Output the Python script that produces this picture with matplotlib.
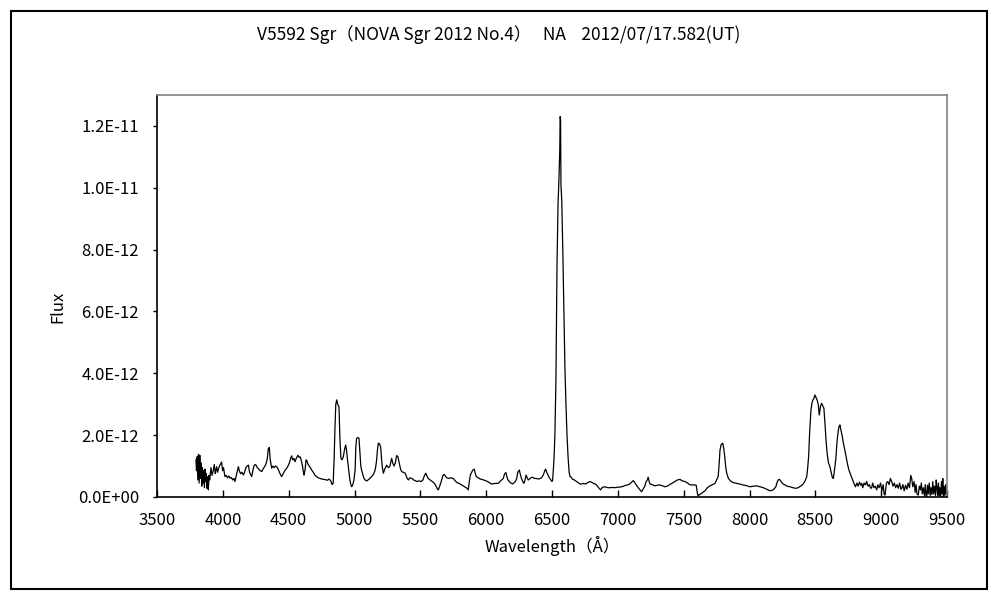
import matplotlib
matplotlib.use("Agg")
from matplotlib import pyplot as plt
from matplotlib.patches import Rectangle
from matplotlib.ticker import FuncFormatter

plt.rcParams['font.family'] = ['Noto Sans CJK JP', 'DejaVu Sans']

title = "V5592 Sgr\uff08NOVA Sgr 2012 No.4\uff09   NA    2012/07/17.582(UT)"

# wavelength in Angstrom, flux in units of 1E-12
wl = [
    3796, 3800, 3805, 3810, 3815, 3820, 3825, 3830, 3835, 3840,
    3845, 3850, 3855, 3860, 3865, 3870, 3875, 3880, 3885, 3890,
    3895, 3900, 3910, 3918, 3928, 3935, 3942, 3953, 3960, 3970,
    3980, 3991, 3998, 4005, 4016, 4025, 4035, 4045, 4054, 4065,
    4075, 4085, 4092, 4100, 4110, 4118, 4125, 4135, 4145, 4156,
    4165, 4175, 4185, 4194, 4203, 4212, 4219, 4228, 4236, 4245,
    4252, 4262, 4272, 4285, 4295, 4305, 4320, 4330, 4338, 4345,
    4353, 4360, 4371, 4380, 4390, 4400, 4409, 4420, 4430, 4440,
    4447, 4458, 4470, 4485, 4495, 4505, 4515, 4523, 4530, 4540,
    4548, 4558, 4570, 4580, 4586, 4595, 4605, 4612, 4617, 4625,
    4632, 4637, 4648, 4660, 4675, 4690, 4700, 4713, 4725, 4740,
    4750, 4763, 4780, 4795, 4805, 4814, 4822, 4830, 4838, 4845,
    4852, 4858, 4865, 4872, 4882, 4890, 4897, 4905, 4915, 4925,
    4933, 4940, 4947, 4955, 4965, 4972, 4979, 4987, 4996, 5005,
    5010, 5016, 5025, 5034, 5042, 5048, 5054, 5062, 5070, 5080,
    5095, 5110, 5120, 5130, 5142, 5155, 5162, 5168, 5175, 5181,
    5190, 5199, 5206, 5212, 5219, 5230, 5244, 5257, 5268, 5282,
    5290, 5300, 5310, 5320, 5330, 5340, 5350, 5358, 5370, 5385,
    5400, 5409, 5420, 5435, 5450, 5465, 5472, 5490, 5505, 5520,
    5530, 5541, 5550, 5560, 5575, 5590, 5605, 5620, 5630, 5637,
    5645, 5655, 5665, 5672, 5680, 5690, 5700, 5715, 5730, 5750,
    5765, 5780, 5795, 5810, 5826, 5840, 5855, 5864, 5872, 5880,
    5890, 5900, 5910, 5918, 5925, 5940, 5955, 5966, 5980, 5995,
    6010, 6025, 6042, 6060, 6075, 6092, 6105, 6118, 6130, 6140,
    6150, 6158, 6165, 6180, 6192, 6201, 6212, 6222, 6232, 6240,
    6252, 6260, 6268, 6278, 6287, 6295, 6303, 6312, 6320, 6330,
    6340, 6353, 6365, 6380, 6395, 6410, 6420, 6435, 6445, 6452,
    6460, 6470, 6480, 6492, 6500, 6505, 6515, 6522, 6530, 6538,
    6546, 6553, 6559, 6562, 6565, 6568, 6574, 6582, 6590, 6598,
    6606, 6614, 6622, 6630, 6637, 6642, 6655, 6670, 6687, 6700,
    6713, 6725, 6740, 6755, 6770, 6789, 6800, 6815, 6830, 6845,
    6858, 6869, 6880, 6895, 6910, 6925, 6941, 6960, 6975, 6990,
    7010, 7029, 7045, 7060, 7075, 7090, 7105, 7118, 7130, 7140,
    7155, 7170, 7181, 7192, 7205, 7215, 7224, 7230, 7238, 7245,
    7260, 7272, 7282, 7300, 7320, 7340, 7358, 7375, 7390, 7410,
    7434, 7452, 7472, 7490, 7510, 7530, 7545, 7561, 7580, 7595,
    7605, 7611, 7620, 7630, 7645, 7662, 7680, 7700, 7720, 7738,
    7750, 7762, 7770, 7776, 7785, 7797, 7805, 7812, 7820, 7827,
    7840, 7860, 7880, 7903, 7925, 7950, 7975, 8004, 8030, 8055,
    8080, 8105, 8130, 8156, 8181, 8200, 8210, 8218, 8228, 8240,
    8255, 8269, 8285, 8307, 8330, 8350, 8370, 8390, 8402, 8420,
    8435, 8442, 8449, 8458, 8467, 8475, 8482, 8490, 8497, 8505,
    8513, 8522, 8530, 8540, 8548, 8556, 8565, 8573, 8581, 8590,
    8600, 8611, 8620, 8630, 8637, 8645, 8655, 8665, 8675, 8682,
    8687, 8695, 8705, 8715, 8725, 8734, 8745, 8755, 8770, 8784,
    8795, 8805, 8815, 8825, 8835, 8845, 8852, 8860, 8870, 8880,
    8890, 8900, 8910, 8920, 8928, 8935, 8945, 8955, 8966, 8975,
    8985, 8995, 9005, 9015, 9022, 9029, 9040, 9050, 9060, 9070,
    9080, 9090, 9100, 9110, 9120, 9130, 9140, 9150, 9156, 9165,
    9175, 9185, 9195, 9205, 9215, 9225, 9232, 9240, 9250, 9258,
    9265, 9272, 9282, 9290, 9298, 9305, 9312, 9320, 9328, 9335,
    9341, 9346, 9352, 9358, 9365, 9372, 9378, 9385, 9392, 9398,
    9405, 9412, 9418, 9422, 9428, 9435, 9440, 9446, 9452, 9458,
    9463, 9468, 9473, 9478, 9484, 9490, 9495, 9498,
]
flux = [
    1.20, 0.85, 1.30, 0.55, 1.38, 0.45, 1.35, 0.60, 1.10, 0.35,
    0.95, 0.45, 0.85, 0.30, 0.90, 0.50, 0.75, 0.28, 0.65, 0.23,
    0.70, 0.55, 0.95, 0.70, 0.87, 1.05, 0.75, 0.98, 0.80, 0.95,
    1.05, 1.13, 0.85, 0.95, 0.66, 0.70, 0.62, 0.68, 0.61, 0.63,
    0.55, 0.60, 0.50, 0.65, 0.85, 0.98, 0.85, 0.75, 0.80, 0.71,
    0.80, 0.95, 1.00, 1.03, 0.80, 0.72, 0.66, 0.85, 1.00, 1.05,
    1.03, 0.95, 0.90, 0.85, 0.82, 0.90, 1.00, 1.10, 1.25, 1.55,
    1.60, 1.20, 0.93, 1.00, 0.95, 1.00, 0.98, 0.90, 0.80, 0.70,
    0.66, 0.75, 0.85, 0.93, 1.00, 1.10, 1.25, 1.33, 1.20, 1.25,
    1.14, 1.25, 1.35, 1.28, 1.30, 1.20, 1.00, 0.80, 0.71, 0.90,
    1.20, 1.18, 1.05, 0.98, 0.87, 0.78, 0.70, 0.66, 0.62, 0.60,
    0.58, 0.57, 0.56, 0.54, 0.58, 0.55, 0.50, 0.40, 0.45, 1.20,
    2.28, 3.00, 3.14, 3.00, 2.92, 1.80, 1.25, 1.20, 1.30, 1.55,
    1.68, 1.50, 1.20, 0.90, 0.55, 0.40, 0.33, 0.40, 0.55, 0.90,
    1.60, 1.90, 1.92, 1.90, 1.40, 1.00, 0.87, 0.75, 0.62, 0.55,
    0.52, 0.58, 0.62, 0.66, 0.72, 0.85, 1.00, 1.20, 1.55, 1.74,
    1.72, 1.60, 1.20, 0.95, 0.77, 0.90, 1.03, 0.95, 0.98, 1.25,
    1.10, 1.00, 1.10, 1.34, 1.30, 1.09, 0.90, 0.82, 0.80, 0.77,
    0.60, 0.55, 0.62, 0.60, 0.55, 0.52, 0.50, 0.52, 0.50, 0.55,
    0.68, 0.77, 0.68, 0.60, 0.55, 0.50, 0.45, 0.35, 0.25, 0.23,
    0.33, 0.45, 0.60, 0.70, 0.73, 0.68, 0.62, 0.60, 0.62, 0.60,
    0.52, 0.46, 0.44, 0.40, 0.36, 0.32, 0.28, 0.23, 0.50, 0.71,
    0.80, 0.88, 0.90, 0.75, 0.66, 0.62, 0.58, 0.57, 0.55, 0.53,
    0.50, 0.46, 0.42, 0.43, 0.44, 0.44, 0.50, 0.55, 0.60, 0.75,
    0.79, 0.65, 0.55, 0.48, 0.44, 0.42, 0.46, 0.50, 0.60, 0.80,
    0.87, 0.72, 0.60, 0.50, 0.44, 0.55, 0.71, 0.62, 0.55, 0.58,
    0.62, 0.64, 0.60, 0.60, 0.58, 0.60, 0.62, 0.72, 0.85, 0.90,
    0.80, 0.71, 0.62, 0.55, 0.50, 0.55, 1.20, 2.00, 3.80, 7.50,
    9.50, 10.3, 11.2, 12.3, 12.2, 10.1, 9.60, 8.00, 6.00, 4.20,
    3.00, 2.00, 1.30, 0.80, 0.66, 0.66, 0.58, 0.55, 0.50, 0.46,
    0.42, 0.42, 0.44, 0.42, 0.46, 0.50, 0.48, 0.44, 0.42, 0.35,
    0.28, 0.23, 0.30, 0.33, 0.32, 0.30, 0.30, 0.31, 0.30, 0.31,
    0.32, 0.33, 0.35, 0.38, 0.39, 0.42, 0.48, 0.53, 0.45, 0.39,
    0.30, 0.22, 0.17, 0.25, 0.35, 0.50, 0.55, 0.64, 0.50, 0.42,
    0.40, 0.38, 0.36, 0.38, 0.39, 0.36, 0.33, 0.35, 0.39, 0.44,
    0.50, 0.55, 0.57, 0.52, 0.50, 0.45, 0.40, 0.39, 0.39, 0.38,
    0.10, 0.03, 0.08, 0.10, 0.15, 0.20, 0.30, 0.36, 0.40, 0.44,
    0.55, 0.66, 1.10, 1.52, 1.70, 1.74, 1.55, 1.30, 0.95, 0.77,
    0.60, 0.50, 0.46, 0.44, 0.42, 0.39, 0.37, 0.33, 0.35, 0.36,
    0.33, 0.30, 0.25, 0.20, 0.23, 0.33, 0.48, 0.55, 0.57, 0.50,
    0.42, 0.39, 0.35, 0.33, 0.30, 0.28, 0.30, 0.36, 0.39, 0.50,
    0.66, 0.95, 1.30, 2.20, 2.82, 3.05, 3.14, 3.20, 3.30, 3.22,
    3.14, 3.00, 2.65, 2.95, 3.03, 2.95, 2.87, 2.40, 1.84, 1.40,
    1.10, 0.98, 0.80, 0.62, 0.60, 0.85, 1.20, 1.80, 2.17, 2.30,
    2.33, 2.15, 1.95, 1.70, 1.50, 1.30, 1.05, 0.87, 0.70, 0.55,
    0.42, 0.33, 0.45, 0.35, 0.48, 0.38, 0.44, 0.30, 0.45, 0.39,
    0.50, 0.35, 0.40, 0.28, 0.30, 0.45, 0.30, 0.35, 0.23, 0.39,
    0.30, 0.45, 0.20, 0.40, 0.10, 0.06, 0.45, 0.50, 0.40, 0.60,
    0.50, 0.35, 0.45, 0.30, 0.40, 0.28, 0.45, 0.25, 0.28, 0.40,
    0.20, 0.38, 0.25, 0.45, 0.30, 0.70, 0.60, 0.33, 0.50, 0.15,
    0.40, 0.10, 0.06, 0.35, 0.23, 0.45, 0.10, 0.30, 0.05, 0.40,
    0.00, 0.02, 0.38, 0.10, 0.45, 0.05, 0.30, 0.08, 0.50, 0.10,
    0.35, 0.05, 0.55, 0.39, 0.05, 0.45, 0.05, 0.30, 0.02, 0.50,
    0.10, 0.60, 0.00, 0.35, 0.05, 0.40, 0.10, 0.10,
]
assert len(wl) == len(flux)

x_ticks = list(range(3500, 10000, 500))
y_ticks = [0, 2e-12, 4e-12, 6e-12, 8e-12, 1e-11, 1.2e-11]

fig = plt.figure(figsize=(10, 6), dpi=100)
ax = fig.add_axes([0.157, 0.1717, 0.79, 0.67])

ax.plot(wl, [f * 1e-12 for f in flux], color='black', linewidth=0.9)

ax.set_xlim(3500, 9500)
ax.set_ylim(0, 1.3e-11)
ax.set_xticks(x_ticks)
ax.set_yticks(y_ticks)
ax.yaxis.set_major_formatter(FuncFormatter(lambda v, p: "%.1E" % v))

ax.tick_params(axis='x', direction='in', length=5, width=1, pad=11,
               labelsize=12, color='black')
ax.tick_params(axis='y', direction='out', length=3, width=1, pad=10,
               labelsize=12, color='black')

for s in ['left', 'bottom']:
    ax.spines[s].set_color('black')
    ax.spines[s].set_linewidth(1.2)
for s in ['top', 'right']:
    ax.spines[s].set_color('#808080')
    ax.spines[s].set_linewidth(1.2)

ax.set_xlabel("Wavelength\uff08\u00c5\uff09", fontsize=12, labelpad=5)
fig.text(0.058, 1 - 307 / 600, "Flux", rotation=90, fontsize=12,
         ha='center', va='center')
fig.text(0.499, 1 - 35 / 600, title, fontsize=12.5, ha='center', va='center')

# outer frame of the chart
fig.patches.append(Rectangle((0.011, 1 - 589 / 600), 0.976, 578 / 600,
                             transform=fig.transFigure, fill=False,
                             edgecolor='black', linewidth=1.5))

fig.savefig("out.png", dpi=100)
